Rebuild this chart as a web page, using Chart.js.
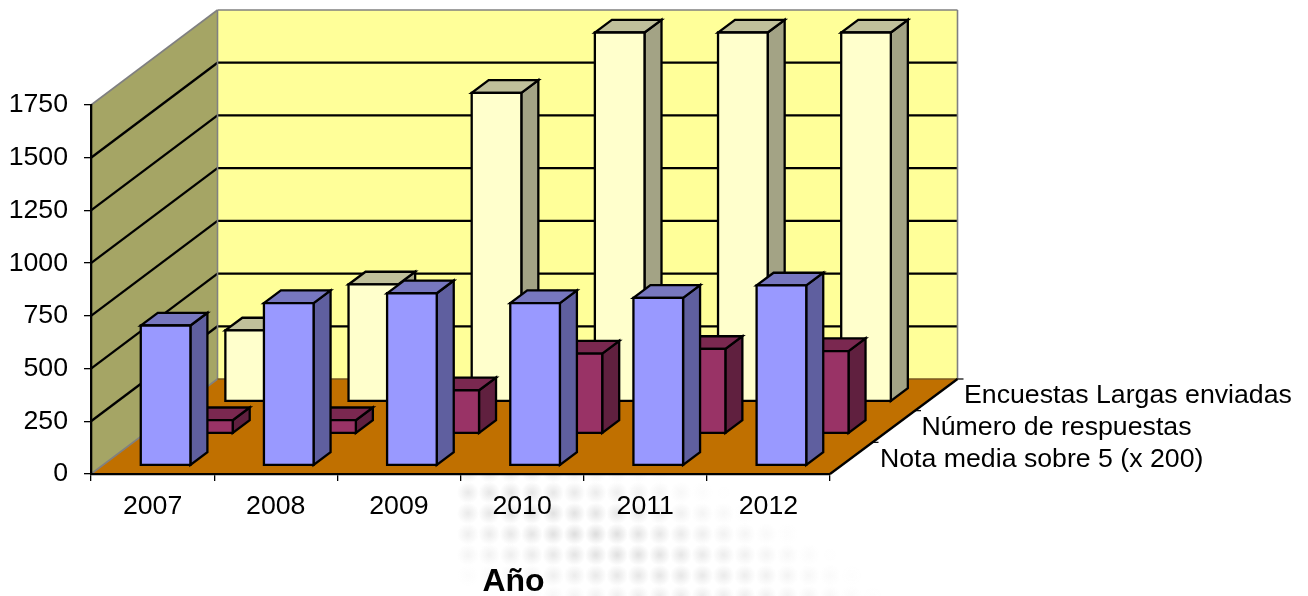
<!DOCTYPE html>
<html lang="es">
<head>
<meta charset="utf-8">
<title>Encuestas por año</title>
<style>
html,body{margin:0;padding:0;background:#fff;}
canvas{display:block;}
</style>
<script src="https://cdn.jsdelivr.net/npm/chart.js@4"></script>
</head>
<body>
<canvas id="c" width="1308" height="596"></canvas>
<script>
const years = ['2007','2008','2009','2010','2011','2012'];
const notaMedia = [664, 770, 817, 770, 795, 854];
const respuestas = [63, 63, 205, 379, 401, 391];
const encuestas = [337, 555, 1464, 1750, 1750, 1750];
const yTicksStep = 250;
const yMax = 1750;
const xTitle = 'Año';
const seriesNames = ['Nota media sobre 5 (x 200)', 'Número de respuestas', 'Encuestas Largas enviadas'];

const FONT = '"Liberation Sans", Arial, sans-serif';
const faces = [
  {front:'#9999FF', side:'#5F5F9F', top:'#7777BF'},
  {front:'#993366', side:'#60203F', top:'#7A2850'},
  {front:'#FFFFCC', side:'#A3A385', top:'#C0C09B'}
];
const depth = {dxL:126.5, dxR:127.5, dy:95};
const row = {x0:13, xStep:42.3, y0:8.5, yStep:32, barDx:17, barDy:12.7};
const labelPos = [
  {x:880, y:460},
  {x:921.5, y:428},
  {x:964, y:396}
];

function poly(ctx, pts, fill, stroke, lw){
  ctx.beginPath();
  pts.forEach((p,i)=> i ? ctx.lineTo(p[0],p[1]) : ctx.moveTo(p[0],p[1]));
  ctx.closePath();
  if(fill){ctx.fillStyle=fill;ctx.fill();}
  if(stroke){ctx.strokeStyle=stroke;ctx.lineWidth=lw;ctx.lineJoin='miter';ctx.stroke();}
}
function seg(ctx,x1,y1,x2,y2,color,lw){
  ctx.beginPath();ctx.moveTo(x1,y1);ctx.lineTo(x2,y2);
  ctx.strokeStyle=color;ctx.lineWidth=lw;ctx.stroke();
}

const scene = {
  id:'scene3d',
  beforeDraw(chart){
    const ctx=chart.ctx, a=chart.chartArea, y=chart.scales.y;
    const L=a.left, R=a.right, T=a.top, B=a.bottom, dy=depth.dy;
    const BL=L+depth.dxL, BR=R+depth.dxR;
    ctx.save();
    // faint halftone background
    for(let j=0;j<7;j++){
      for(let i=0;i<22;i++){
        const px=468+i*21.3, py=472+j*20.7;
        const cx=590+(py-535)*1.6;
        const d=Math.hypot(px-cx,(py-535)*1.6);
        const v=Math.max(0,1-d/215);
        if(v<=0) continue;
        const r=11;
        const g=ctx.createRadialGradient(px,py,1,px,py,r);
        g.addColorStop(0,'rgba(130,130,130,'+(0.27*v)+')');
        g.addColorStop(1,'rgba(130,130,130,0)');
        ctx.fillStyle=g;
        ctx.fillRect(px-r,py-r,2*r,2*r);
      }
    }
    // walls and floor
    poly(ctx,[[BL,T-dy],[BR,T-dy],[BR,B-dy],[BL,B-dy]],'#FFFF99');
    poly(ctx,[[L,B],[L,T],[BL,T-dy],[BL,B-dy]],'#A5A565');
    poly(ctx,[[L,B],[R,B],[BR,B-dy],[BL,B-dy]],'#C07000');
    // gridlines from the value axis
    y.ticks.forEach(t=>{
      const p=y.getPixelForValue(t.value);
      if(t.value===0||t.value===yMax) return;
      seg(ctx,L,p,BL,p-dy,'#000',2.3);
      seg(ctx,BL,p-dy,BR,p-dy,'#000',2.3);
    });
    // wall edges
    seg(ctx,L,T,BL,T-dy,'#808080',1.6);
    seg(ctx,BL,T-dy,BR,T-dy,'#808080',1.6);
    seg(ctx,BL,T-dy,BL,B-dy,'#808080',1.6);
    seg(ctx,BR,T-dy,BR,B-dy,'#808080',1.6);
    seg(ctx,L,B,BL,B-dy,'#808080',1.6);
    seg(ctx,BL,B-dy,BR,B-dy,'#7a5a20',1.6);
    // depth axis
    seg(ctx,R,B,BR,B-dy,'#000',2.3);
    for(let i=0;i<3;i++){
      const f=1-i/3;
      const px=R+depth.dxR*f, py=B-dy*f;
      seg(ctx,px,py,px+6,py,'#000',1.2);
    }
    ctx.restore();
  },
  beforeDatasetsDraw(chart){
    const ctx=chart.ctx;
    ctx.save();
    for(let r=2;r>=0;r--){
      const meta=chart.getDatasetMeta(r), c=faces[r];
      const ox=row.x0+row.xStep*r, oy=row.y0+row.yStep*r;
      meta.data.forEach(el=>{
        const w=el.width, x1=el.x-w/2+ox, x2=el.x+w/2+ox;
        const yb=el.base-oy, yt=el.y-oy;
        const ddx=row.barDx, ddy=row.barDy;
        poly(ctx,[[x2,yb],[x2,yt],[x2+ddx,yt-ddy],[x2+ddx,yb-ddy]],c.side,'#000',2.3);
        poly(ctx,[[x1,yt],[x2,yt],[x2+ddx,yt-ddy],[x1+ddx,yt-ddy]],c.top,'#000',2.3);
        poly(ctx,[[x1,yb],[x2,yb],[x2,yt],[x1,yt]],c.front,'#000',2.3);
      });
    }
    ctx.restore();
    return false;
  },
  afterDraw(chart){
    const ctx=chart.ctx;
    ctx.save();
    ctx.fillStyle='#000';
    ctx.textBaseline='middle';
    ctx.textAlign='left';
    ctx.font='26.7px '+FONT;
    chart.data.datasets.forEach((d,i)=>ctx.fillText(d.label,labelPos[i].x,labelPos[i].y));
    ctx.font='bold 32px '+FONT;
    ctx.textAlign='center';
    ctx.fillText(xTitle,513.5,582);
    ctx.restore();
  }
};

new Chart(document.getElementById('c'),{
  type:'bar',
  plugins:[scene],
  data:{
    labels:years,
    datasets:[
      {label:seriesNames[0],data:notaMedia,backgroundColor:faces[0].front},
      {label:seriesNames[1],data:respuestas,backgroundColor:faces[1].front},
      {label:seriesNames[2],data:encuestas,backgroundColor:faces[2].front}
    ]
  },
  options:{
    responsive:false,
    animation:false,
    events:[],
    grouped:false,
    barPercentage:0.403,
    categoryPercentage:1,
    layout:{padding:{top:105,right:478,left:0,bottom:0}},
    plugins:{legend:{display:false},title:{display:false},tooltip:{enabled:false}},
    scales:{
      x:{
        grid:{drawOnChartArea:false,color:'#000',tickLength:7,lineWidth:1.3},
        border:{display:true,color:'#000',width:2.3},
        ticks:{color:'#000',font:{family:FONT,size:26.7},padding:10,maxRotation:0},
        afterFit(s){s.height=122;}
      },
      y:{
        min:0,max:yMax,
        grid:{drawOnChartArea:false,color:'#000',tickLength:7,lineWidth:1.3},
        border:{display:true,color:'#000',width:2.3},
        ticks:{stepSize:yTicksStep,color:'#000',font:{family:FONT,size:26.7},padding:16,
          callback:v=>String(v)},
        afterFit(s){s.width=91;}
      }
    }
  }
});
</script>
</body>
</html>
